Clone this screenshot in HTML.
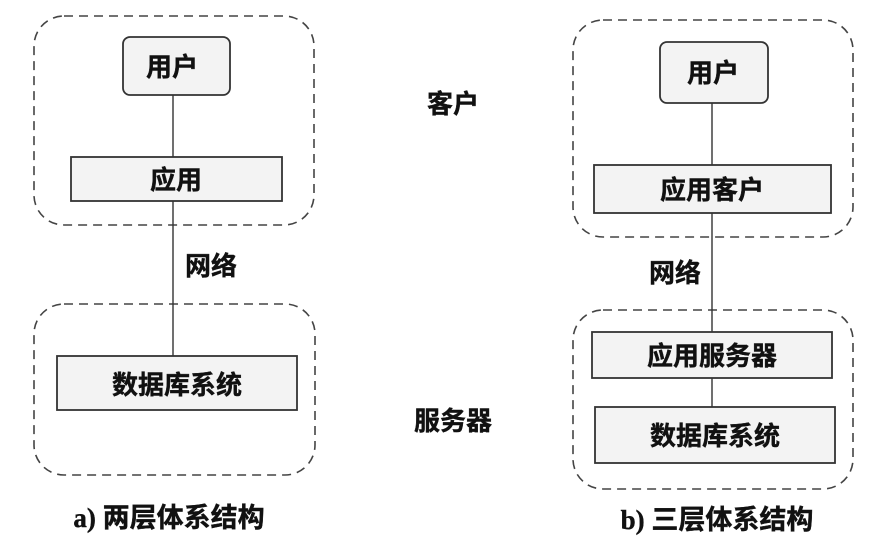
<!DOCTYPE html>
<html><head><meta charset="utf-8"><style>
html,body{margin:0;padding:0;background:#fff;}
svg{display:block;}
text{font-family:"Liberation Serif","Noto Sans CJK SC",sans-serif;font-weight:bold;fill:#111;stroke:#111;stroke-width:0.4;}
</style></head><body>
<svg width="891" height="541" viewBox="0 0 891 541" xmlns="http://www.w3.org/2000/svg">
<g fill="none" stroke="#444" stroke-width="1.6" stroke-dasharray="9,6">
<rect x="34" y="16" width="280" height="209" rx="30"/>
<rect x="34" y="304" width="281" height="171" rx="30"/>
<rect x="573" y="20" width="280" height="217" rx="30"/>
<rect x="573" y="310" width="280" height="179" rx="30"/>
</g>
<g stroke="#333" stroke-width="1.4">
<line x1="173" y1="95" x2="173" y2="157"/>
<line x1="173" y1="201" x2="173" y2="356"/>
<line x1="712" y1="103" x2="712" y2="165"/>
<line x1="712" y1="213" x2="712" y2="332"/>
<line x1="712" y1="378" x2="712" y2="407"/>
</g>
<g fill="#f3f3f3" stroke="#333" stroke-width="1.8">
<rect x="123" y="37" width="107" height="58" rx="7"/>
<rect x="71" y="157" width="211" height="44"/>
<rect x="57" y="356" width="240" height="54"/>
<rect x="660" y="42" width="108" height="61" rx="7"/>
<rect x="594" y="165" width="237" height="48"/>
<rect x="592" y="332" width="240" height="46"/>
<rect x="595" y="407" width="240" height="56"/>
</g>
<g font-size="26" text-anchor="middle">
<text x="172" y="76">用户</text>
<text x="176" y="189">应用</text>
<text x="177" y="394">数据库系统</text>
<text x="713" y="82">用户</text>
<text x="712" y="199">应用客户</text>
<text x="712" y="365">应用服务器</text>
<text x="715" y="445">数据库系统</text>
<text x="211" y="275">网络</text>
<text x="675" y="282">网络</text>
<text x="453" y="113">客户</text>
<text x="453" y="430">服务器</text>
<text x="169" y="527" font-size="27">a) 两层体系结构</text>
<text x="717" y="529" font-size="27">b) 三层体系结构</text>
</g>
</svg>
</body></html>
